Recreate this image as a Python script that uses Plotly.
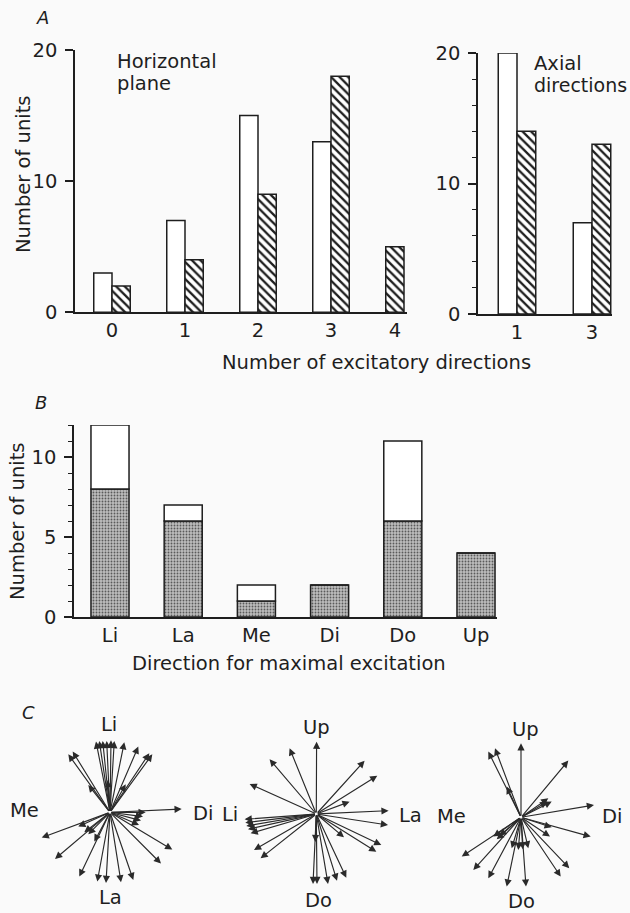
import numpy as np
import plotly.graph_objects as go

W, H = 630, 913
def fx(p): return p / W
def fy(p): return 1 - p / H

# ---------------- data ----------------
a_cats = [0, 1, 2, 3, 4]
a_open = [3, 7, 15, 13, 0]
a_hatch = [2, 4, 9, 18, 5]

ax_cats = [1, 3]
ax_open = [20, 7]
ax_hatch = [14, 13]

b_cats = ['Li', 'La', 'Me', 'Di', 'Do', 'Up']
b_filled = [8, 6, 1, 2, 6, 4]
b_total = [12, 7, 2, 2, 11, 4]

# vectors of panel C (right, up)
c1_dx = [-14, -10.7, -7.3, -3.3, 1, 4.3, 14.3, 28.3, 39.3, 42.3, -41.7, -37.3, -21.7, -2.3, 15.7,
         71.7, 35.7, 33, 31, 29, 62.3, 51, 23.3, 11, -4, -12.7, -30.7, -55, -68.3, -31.7, -25.7, -21.7, -15.7]
c1_dy = [70.7, 71.3, 71.3, 71.3, 72, 71.3, 70, 65.7, 59, 58, 58, 60.7, 27.3, 32.3, 28,
         3.3, 0, -4.3, -8.3, -12.7, -37.3, -51.3, -67.7, -70, -70.7, -69.3, -64.3, -46.7, -25.3, -14.3, -20, -22, -29.3]
c2_dx = [0.3, -26.7, -46.7, -66.7, 48.3, 61, 33.3, 72.3, 71.7, -71.7, -71, -70, -68.3, -65.7,
         -62.3, -55.7, 65, 60, 27.7, -3.3, 0.7, 11.7, 20.7, 30, -1]
c2_dy = [72.3, 65.7, 54.7, 30, 53.3, 38.3, 12.3, 3.3, -11, -5.3, -8.7, -12, -15.3, -19.3,
         -36, -44.3, -31, -37.7, -23.3, -70, -70, -70, -66.7, -63.7, -28]
c3_dx = [0, -32.7, -26, -14.3, 47.3, 27.3, 30.7, 26.3, 73, 69.7, 30.7, 29, 48.3, 39.7, 5,
         -14.3, -32.7, -47.7, -59.3, -9.3, -2.7, 1.7, 7.3, -27.7, -24.3, -21.7]
c3_dy = [74, 65.7, 69, 30.7, 56.7, 19, 15.7, 15.7, 12.3, -19.3, -10, -19.3, -51, -59.3, -69.3,
         -69.3, -61, -52.7, -39.3, -31, -32.7, -32, -31, -19.3, -22, -18.7]
c1_labels = ['Li', 'Me', 'Di', 'La']
c2_labels = ['Up', 'Li', 'La', 'Do']
c3_labels = ['Up', 'Me', 'Di', 'Do']

# ---------------- style ----------------
FONT = 'DejaVu Sans'
INK = '#1e1e1e'
BG = '#fafafa'
FS = 19.5
line = dict(color=INK, width=1.5)
hatch = dict(shape='\\', fgcolor=INK, bgcolor='white', size=6, solidity=0.38)
stipple = dict(shape='.', fgcolor='#5a5a5a', bgcolor='#bdbdbd', size=3, solidity=0.3)

fig = go.Figure()

# Panel A, horizontal plane
a_open_arr = np.array(a_open)
hatch_off = np.where(a_open_arr == 0, -0.25, 0.0)
fig.add_trace(go.Bar(x=a_cats, y=a_open, width=0.25, offset=-0.25,
                     marker=dict(color='white', line=line), xaxis='x', yaxis='y'))
fig.add_trace(go.Bar(x=a_cats, y=a_hatch, width=0.25, offset=hatch_off,
                     marker=dict(color='white', pattern=hatch, line=line), xaxis='x', yaxis='y'))
a_tickvals = list(np.array(a_cats) + np.where(a_open_arr == 0, -0.125, 0.0))

# Panel A, axial directions
fig.add_trace(go.Bar(x=ax_cats, y=ax_open, width=0.5, offset=-0.5,
                     marker=dict(color='white', line=line), xaxis='x2', yaxis='y2'))
fig.add_trace(go.Bar(x=ax_cats, y=ax_hatch, width=0.5, offset=0,
                     marker=dict(color='white', pattern=hatch, line=line), xaxis='x2', yaxis='y2'))

# Panel B
b_open = list(np.array(b_total) - np.array(b_filled))
bx = list(range(len(b_cats)))
fig.add_trace(go.Bar(x=bx, y=b_filled, width=0.52,
                     marker=dict(color='#c0c0c0', pattern=stipple, line=line), xaxis='x3', yaxis='y3'))
fig.add_trace(go.Bar(x=bx, y=b_open, base=b_filled, width=0.52,
                     marker=dict(color='white', line=line), xaxis='x3', yaxis='y3'))

fig.update_traces(showlegend=False, hoverinfo='skip')

tickfont = dict(family=FONT, size=FS, color=INK)
def yax(dom, rng, dtick, anchor, minor=None):
    d = dict(domain=dom, range=rng, showline=True, linecolor=INK, linewidth=1.5, anchor=anchor,
             ticks='outside', ticklen=8, tickwidth=1.5, tickcolor=INK, dtick=dtick,
             tickfont=tickfont, showgrid=False, zeroline=False, fixedrange=True, automargin=False,
             ticklabelstandoff=4)
    if minor:
        d['minor'] = minor
    return d
def xax(dom, rng, **kw):
    d = dict(domain=dom, range=rng, showline=True, linecolor=INK, linewidth=1.5,
             ticks='', tickfont=tickfont, showgrid=False, zeroline=False, fixedrange=True,
             automargin=False)
    d.update(kw)
    return d

# px mapping: A left: px = 112 + 73*x ; axial: px = 517 + 37.5*(x-1) ; B: px = 110 + 73.2*x
layout = dict(
    template='none',
    width=W, height=H, margin=dict(l=0, r=0, t=0, b=0, autoexpand=False),
    paper_bgcolor=BG, plot_bgcolor=BG, barmode='overlay', showlegend=False,
    font=dict(family=FONT, color=INK, size=FS),
    xaxis=xax([fx(75), fx(407)], [(75 - 112) / 73, (407 - 112) / 73],
              tickmode='array', tickvals=a_tickvals, ticktext=[str(c) for c in a_cats],
              anchor='y', ticklabelstandoff=0),
    yaxis=yax([fy(312.3), fy(50)], [0, 20], 10, 'x'),
    xaxis2=xax([fx(478), fx(612)], [1 - 39 / 37.5, 3 + 20 / 37.5],
               tickmode='array', tickvals=ax_cats, ticktext=[str(c) for c in ax_cats],
               anchor='y2', ticklabelstandoff=0),
    yaxis2=yax([fy(314), fy(53)], [0, 20], 10, 'x2',
               minor=dict(dtick=2, ticks='outside', ticklen=4, tickwidth=1.2, tickcolor=INK)),
    xaxis3=xax([fx(74), fx(497)], [(74 - 110) / 73.2, (497 - 110) / 73.2],
               tickmode='array', tickvals=bx, ticktext=b_cats, anchor='y3', ticklabelstandoff=0),
    yaxis3=yax([fy(617), fy(425)], [0, 12], 5, 'x3',
               minor=dict(dtick=1, ticks='outside', ticklen=4, tickwidth=1.2, tickcolor=INK)),
)

# Panel C axes (1 unit = 1 px)
centers = [(110, 812.3), (316.3, 814), (521, 817.3)]
R = 80
for i, (cx, cy) in enumerate(centers):
    n = i + 4
    layout[f'xaxis{n}'] = dict(domain=[fx(cx - R), fx(cx + R)], range=[-R, R], visible=False,
                               fixedrange=True, anchor=f'y{n}', automargin=False)
    layout[f'yaxis{n}'] = dict(domain=[fy(cy + R), fy(cy - R)], range=[-R, R], visible=False,
                               fixedrange=True, anchor=f'x{n}', automargin=False)
fig.update_layout(**layout)

# invisible traces so rose axes exist
for i in range(3):
    n = i + 4
    fig.add_trace(go.Scatter(x=[0], y=[0], mode='markers', marker=dict(size=1, color=BG),
                             xaxis=f'x{n}', yaxis=f'y{n}', showlegend=False, hoverinfo='skip'))

ann = []
def txt(s, x, y, xanchor='center', size=FS, angle=0):
    ann.append(dict(text=s, x=fx(x), y=fy(y), xref='paper', yref='paper', showarrow=False,
                    xanchor=xanchor, yanchor='middle', textangle=angle,
                    font=dict(family=FONT, size=size, color=INK)))

txt('<i>A</i>', 43, 17, size=18)
txt('<i>B</i>', 41, 402, size=18)
txt('<i>C</i>', 28, 712, size=18)
txt('Horizontal', 115, 62, xanchor='left')
txt('plane', 115, 84, xanchor='left')
txt('Axial', 532, 63, xanchor='left')
txt('directions', 532, 85, xanchor='left', size=19)
txt('Number of units', 23, 175, angle=-90)
txt('Number of units', 17, 522, angle=-90)
txt('Number of excitatory directions', 376, 362)
txt('Direction for maximal excitation', 289, 663)

# rose labels
rose_label_pos = [
    [(109, 724), (24, 810), (203, 813), (110, 897)],
    [(316, 727), (230, 814), (410, 815), (318, 900)],
    [(525, 729), (451, 816), (612, 816), (521, 901)],
]
for labels, pos in zip([c1_labels, c2_labels, c3_labels], rose_label_pos):
    for s, (x, y) in zip(labels, pos):
        txt(s, x, y)

for i, (dxs, dys) in enumerate([(c1_dx, c1_dy), (c2_dx, c2_dy), (c3_dx, c3_dy)]):
    n = i + 4
    for dx, dy in zip(dxs, dys):
        ann.append(dict(x=dx, y=dy, ax=0, ay=0, xref=f'x{n}', yref=f'y{n}',
                        axref=f'x{n}', ayref=f'y{n}', text='', showarrow=True,
                        arrowhead=2, arrowsize=1.25, arrowwidth=1.15, arrowcolor='#2a2a2a',
                        standoff=0))

fig.update_layout(annotations=ann)
fig.write_html('out.html')
